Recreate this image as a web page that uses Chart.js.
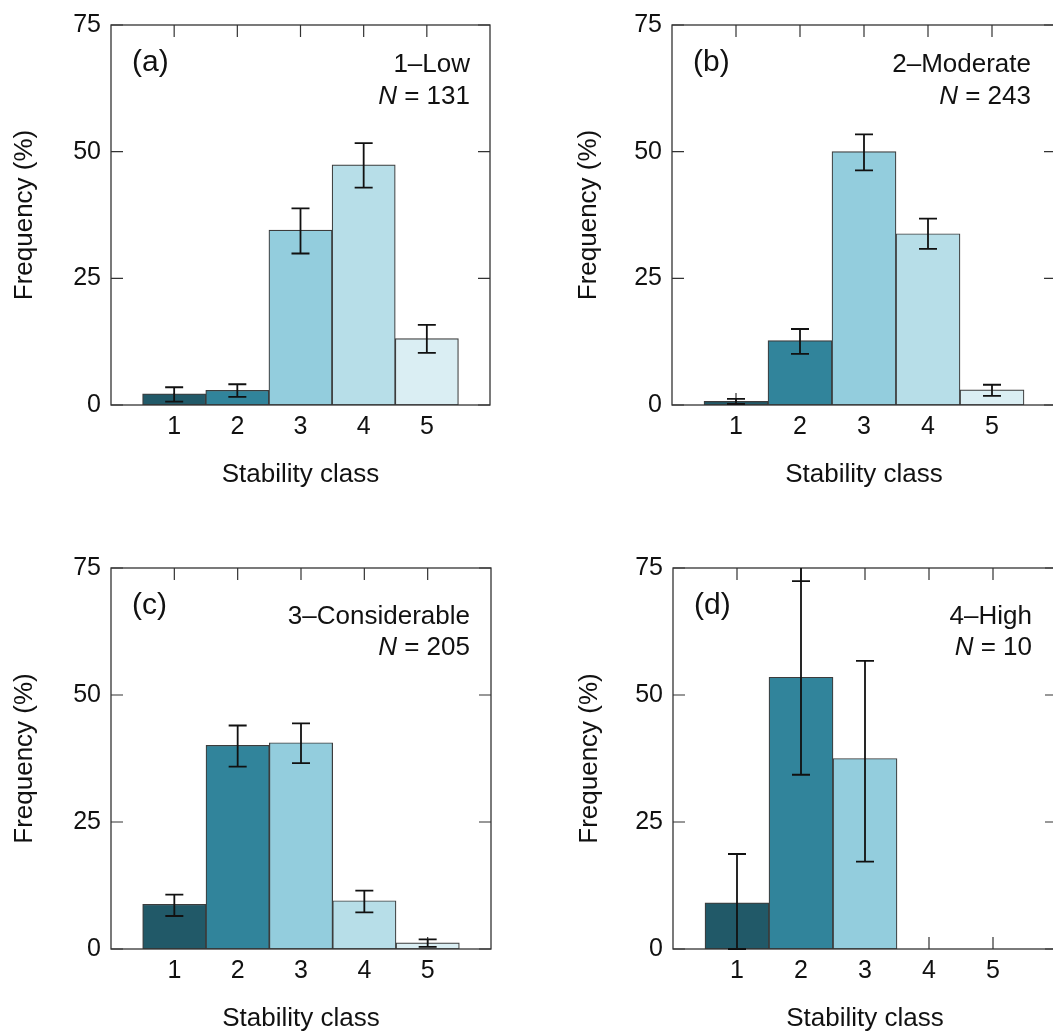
<!DOCTYPE html>
<html>
<head>
<meta charset="utf-8">
<script src="https://cdn.jsdelivr.net/npm/chart.js@4.4.0/dist/chart.umd.min.js"></script>
<style>
html, body { margin: 0; padding: 0; background: #fff; overflow: hidden; width: 1053px; height: 1033px; }
canvas { position: absolute; }
</style>
</head>
<body>
<canvas id="chartA"></canvas>
<canvas id="chartB"></canvas>
<canvas id="chartC"></canvas>
<canvas id="chartD"></canvas>
<script>
// stability classes on the x axis, frequency ticks on the y axis
const classes = [1, 2, 3, 4, 5];
const yTicks = [0, 25, 50, 75];

// 1-Low
const freqLow = [2.2, 2.9, 34.5, 47.4, 13.1];
const lowerLow = [0.65, 1.6, 29.9, 42.9, 10.3];
const upperLow = [3.5, 4.1, 38.8, 51.7, 15.8];

// 2-Moderate
const freqModerate = [0.7, 12.7, 50.0, 33.8, 3.0];
const lowerModerate = [0.2, 10.1, 46.3, 30.8, 1.8];
const upperModerate = [1.2, 15.0, 53.4, 36.8, 4.0];

// 3-Considerable
const freqConsiderable = [8.8, 40.1, 40.6, 9.5, 1.2];
const lowerConsiderable = [6.5, 35.9, 36.6, 7.2, 0.4];
const upperConsiderable = [10.7, 44.0, 44.4, 11.5, 1.9];

// 4-High (whisker of class 2 runs off the top)
const freqHigh = [9.1, 53.5, 37.5, 0, 0];
const lowerHigh = [0, 34.3, 17.2, null, null];
const upperHigh = [18.7, 72.4, 56.7, null, null];
const whiskerTopHigh = [null, 75, null, null, null];

const barColors = ['#215968', '#31849b', '#93cddd', '#b7dee8', '#daeef3'];
const FONT = '"Liberation Sans", Arial, Helvetica, sans-serif';

const panels = [
    { canvas: 'chartA', tag: '(a)', name: '1\u2013Low', n: '131', freq: freqLow, lower: lowerLow, upper: upperLow,
      box: [111, 22, 379, 383], yTitlePad: 9.5, nameY: 47, nY: 79 },
    { canvas: 'chartB', tag: '(b)', name: '2\u2013Moderate', n: '243', freq: freqModerate, lower: lowerModerate, upper: upperModerate,
      box: [672, 22, 384, 383], yTitlePad: 12.5, nameY: 47, nY: 79 },
    { canvas: 'chartC', tag: '(c)', name: '3\u2013Considerable', n: '205', freq: freqConsiderable, lower: lowerConsiderable, upper: upperConsiderable,
      box: [111, 565, 380, 384], yTitlePad: 9.5, nameY: 56, nY: 87 },
    { canvas: 'chartD', tag: '(d)', name: '4\u2013High', n: '10', freq: freqHigh, lower: lowerHigh, upper: upperHigh, whiskerTop: whiskerTopHigh,
      box: [673, 565, 384, 384], yTitlePad: 12.5, nameY: 56, nY: 87 }
];

const AXIS_W = 111, PAD_TOP = 22, PAD_RIGHT = 20, AXIS_H = 100;

// inward ticks on all four sides, drawn behind the bars
const tickPlugin = {
    id: 'inTicks',
    beforeDatasetsDraw(chart) {
        const {ctx, chartArea: a, scales: {x, y}} = chart;
        const len = 12;
        ctx.save();
        ctx.strokeStyle = '#333';
        ctx.lineWidth = 1.2;
        ctx.beginPath();
        classes.forEach(v => {
            const px = x.getPixelForValue(v);
            ctx.moveTo(px, a.top); ctx.lineTo(px, a.top + len);
            ctx.moveTo(px, a.bottom); ctx.lineTo(px, a.bottom - len);
        });
        yTicks.forEach(v => {
            const py = y.getPixelForValue(v);
            ctx.moveTo(a.left, py); ctx.lineTo(a.left + len, py);
            ctx.moveTo(a.right, py); ctx.lineTo(a.right - len, py);
        });
        ctx.stroke();
        ctx.restore();
    }
};

// frame, error bars and the panel texts
const overlayPlugin = {
    id: 'overlay',
    afterDatasetsDraw(chart, args, opts) {
        const {ctx, chartArea: a, scales: {x, y}} = chart;
        const p = opts.panel;
        ctx.save();
        ctx.strokeStyle = '#333';
        ctx.lineWidth = 1.3;
        ctx.strokeRect(a.left, a.top, a.right - a.left, a.bottom - a.top);

        ctx.strokeStyle = '#111';
        ctx.lineWidth = 1.8;
        const cap = 9;
        classes.forEach((v, i) => {
            if (p.lower[i] == null || p.upper[i] == null) return;
            const px = x.getPixelForValue(v);
            const lo = y.getPixelForValue(p.lower[i]);
            const hi = y.getPixelForValue(p.upper[i]);
            let top = hi;
            if (p.whiskerTop && p.whiskerTop[i] != null) top = y.getPixelForValue(p.whiskerTop[i]);
            ctx.beginPath();
            ctx.moveTo(px, lo); ctx.lineTo(px, top);
            ctx.moveTo(px - cap, hi); ctx.lineTo(px + cap, hi);
            ctx.moveTo(px - cap, lo); ctx.lineTo(px + cap, lo);
            ctx.stroke();
        });

        ctx.fillStyle = '#111';
        ctx.textBaseline = 'alphabetic';
        ctx.font = '30px ' + FONT;
        ctx.textAlign = 'left';
        ctx.fillText(p.tag, a.left + 21, a.top + 46);

        const rightX = a.left + 359;
        ctx.font = '26px ' + FONT;
        ctx.textAlign = 'right';
        ctx.fillText(p.name, rightX, a.top + p.nameY);
        const rest = ' = ' + p.n;
        ctx.fillText(rest, rightX, a.top + p.nY);
        const restW = ctx.measureText(rest).width;
        ctx.font = 'italic 26px ' + FONT;
        ctx.fillText('N', rightX - restW, a.top + p.nY);
        ctx.restore();
    }
};

panels.forEach(p => {
    const [l, t, w, h] = p.box;
    const cv = document.getElementById(p.canvas);
    cv.width = w + AXIS_W + PAD_RIGHT;
    cv.height = h + PAD_TOP + AXIS_H;
    cv.style.left = (l - AXIS_W) + 'px';
    cv.style.top = (t - PAD_TOP) + 'px';

    new Chart(cv.getContext('2d'), {
        type: 'bar',
        data: {
            datasets: [{
                data: classes.map((c, i) => ({ x: c, y: p.freq[i] })),
                backgroundColor: barColors,
                borderColor: '#3c3c3c',
                borderWidth: 1.2,
                borderSkipped: false,
                barPercentage: 1,
                categoryPercentage: 1
            }]
        },
        options: {
            responsive: false,
            animation: false,
            events: [],
            layout: { padding: { left: 0, top: PAD_TOP, right: PAD_RIGHT, bottom: 0 } },
            plugins: {
                legend: { display: false },
                tooltip: { enabled: false },
                overlay: { panel: p }
            },
            scales: {
                x: {
                    type: 'linear',
                    min: 0,
                    max: 6,
                    offset: false,
                    grid: { display: false, drawTicks: false },
                    border: { display: false },
                    afterBuildTicks: s => { s.ticks = classes.map(v => ({ value: v })); },
                    afterFit: s => { s.height = AXIS_H; },
                    ticks: { padding: 7, color: '#111', font: { family: FONT, size: 25 }, maxRotation: 0 },
                    title: { display: true, text: 'Stability class', color: '#111',
                             font: { family: FONT, size: 26 }, padding: { top: 0, bottom: 15 } }
                },
                y: {
                    min: 0,
                    max: 75,
                    grid: { display: false, drawTicks: false },
                    border: { display: false },
                    afterBuildTicks: s => { s.ticks = yTicks.map(v => ({ value: v })); },
                    afterFit: s => { s.width = AXIS_W; },
                    ticks: { padding: 10, color: '#111', font: { family: FONT, size: 25 } },
                    title: { display: true, text: 'Frequency (%)', color: '#111',
                             font: { family: FONT, size: 26 }, padding: { top: p.yTitlePad, bottom: 0 } }
                }
            }
        },
        plugins: [tickPlugin, overlayPlugin]
    });
});
</script>
</body>
</html>
